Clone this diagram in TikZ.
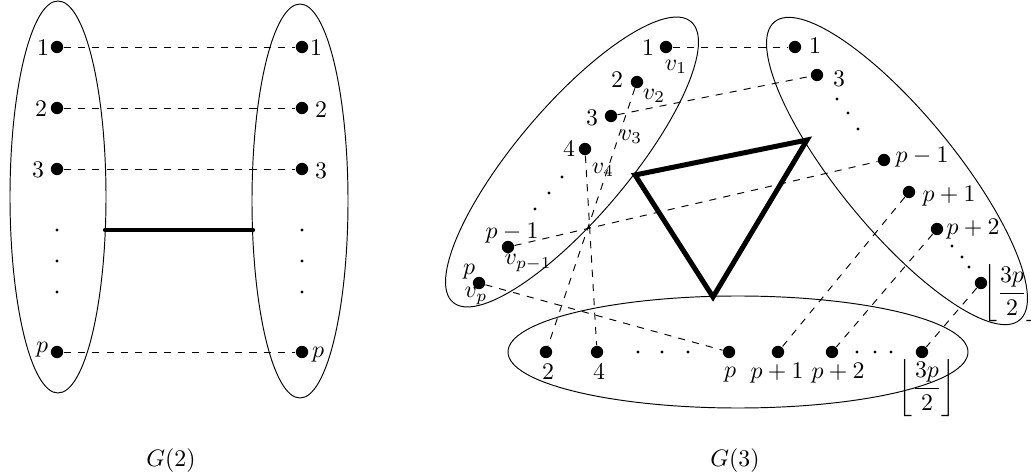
\documentclass[tikz,border=0pt]{standalone}
\begin{document}
\begin{tikzpicture}[x=0.42pt,y=-0.42pt,
  dot/.style={circle,fill,inner sep=0pt,minimum size=5.2pt},
  sdot/.style={circle,fill,inner sep=0pt,minimum size=1.4pt},
  lbl/.style={inner sep=0pt},
  link/.style={dashed},
  heavy/.style={line width=1.8pt,line join=miter},
  heavier/.style={line width=2.1pt,line join=miter},
  setline/.style={thin}]
\useasboundingbox (0,0) rectangle (1031,476);

% ---------------- G(2) ----------------
\draw[setline] (58,197) ellipse [x radius=48, y radius=196];
\draw[setline] (300,201) ellipse [x radius=48, y radius=197];

\node[dot] (a1) at (57,47) {};
\node[dot] (a2) at (57,108) {};
\node[dot] (a3) at (57,169) {};
\node[dot] (ap) at (57,352) {};
\node[sdot] (as1) at (57,230) {};
\node[sdot] (as2) at (57,261) {};
\node[sdot] (as3) at (57,292) {};

\node[dot] (b1) at (302,47) {};
\node[dot] (b2) at (302,108) {};
\node[dot] (b3) at (302,169) {};
\node[dot] (bp) at (302,352) {};
\node[sdot] (bs1) at (302,230) {};
\node[sdot] (bs2) at (302,261) {};
\node[sdot] (bs3) at (302,292) {};

\node[lbl] (la1) at (43,48) {$1$};
\node[lbl] (la2) at (41,109) {$2$};
\node[lbl] (la3) at (38,170) {$3$};
\node[lbl] (lap) at (42,350) {$p$};
\node[lbl] (lb1) at (316,48) {$1$};
\node[lbl] (lb2) at (321,110) {$2$};
\node[lbl] (lb3) at (321,171) {$3$};
\node[lbl] (lbp) at (318,355) {$p$};

\draw[link] (a1) -- (b1);
\draw[link] (a2) -- (b2);
\draw[link] (a3) -- (b3);
\draw[link] (ap) -- (bp);

\coordinate (h1) at (105,230);
\coordinate (h2) at (253,230);
\draw[heavy,line cap=round] (h1) -- (h2);

\node[lbl] (g2) at (171,461) {$G(2)$};

% ---------------- G(3) ----------------
\draw[setline,rotate around={49.7:(572,162)}] (572,162) ellipse [x radius=184, y radius=56];
\draw[setline,rotate around={-50.6:(897,171)}] (897,171) ellipse [x radius=193, y radius=58];
\draw[setline] (738,352) ellipse [x radius=230, y radius=56];

\coordinate (t1) at (635,175);
\coordinate (t2) at (807,140);
\coordinate (t3) at (713,297);
\draw[heavier] (t1) -- (t2) -- (t3) -- cycle;

% upper-left set
\node[dot] (v1) at (666,47) {};
\node[dot] (v2) at (637,82) {};
\node[dot] (v3) at (611,116) {};
\node[dot] (v4) at (585,149) {};
\node[sdot] (vs1) at (562,177) {};
\node[sdot] (vs2) at (549,193) {};
\node[sdot] (vs3) at (535,209) {};
\node[dot] (vq) at (508,247) {};
\node[dot] (vp) at (479,283) {};

\node[lbl] (lv1n) at (648,48) {$1$};
\node[lbl] (lv1) at (676,67) {$v_1$};
\node[lbl] (lv2n) at (617,80) {$2$};
\node[lbl] (lv2) at (654,96) {$v_2$};
\node[lbl] (lv3n) at (592,118) {$3$};
\node[lbl] (lv3) at (631,137) {$v_3$};
\node[lbl] (lv4n) at (569,149) {$4$};
\node[lbl] (lv4) at (603,170) {$v_4$};
\node[lbl] (lvqn) at (512,233) {$p-1$};
\node[lbl] (lvq) at (528,263) {$v_{p-1}$};
\node[lbl] (lvpn) at (469,272) {$p$};
\node[lbl] (lvp) at (476,296) {$v_p$};

% upper-right set
\node[dot] (u1) at (795,47) {};
\node[dot] (u3) at (817,75) {};
\node[sdot] (us1) at (837,99) {};
\node[sdot] (us2) at (848,113) {};
\node[sdot] (us3) at (858,129) {};
\node[dot] (uq) at (884,160) {};
\node[dot] (ur) at (909,192) {};
\node[dot] (us) at (937,229) {};
\node[sdot] (ut1) at (952,246) {};
\node[sdot] (ut2) at (962,257) {};
\node[sdot] (ut3) at (969,267) {};
\node[dot] (uf) at (981,283) {};

\node[lbl] (lu1) at (815,46) {$1$};
\node[lbl] (lu3) at (839,79) {$3$};
\node[lbl] (luq) at (922,157) {$p-1$};
\node[lbl] (lur) at (949,196) {$p+1$};
\node[lbl] (lus) at (973,229) {$p+2$};
\node[lbl] (luf) at (1012,293) {$\left\lfloor{\displaystyle\frac{3p}{2}}\right\rfloor$};

% bottom set
\node[dot] (w2) at (546,352) {};
\node[dot] (w4) at (597,352) {};
\node[sdot] (ws1) at (638,352) {};
\node[sdot] (ws2) at (662,352) {};
\node[sdot] (ws3) at (688,352) {};
\node[dot] (wp) at (729,352) {};
\node[dot] (wr) at (778,352) {};
\node[dot] (ws) at (832,352) {};
\node[sdot] (wt1) at (857,352) {};
\node[sdot] (wt2) at (875,352) {};
\node[sdot] (wt3) at (891,352) {};
\node[dot] (wf) at (922,352) {};

\node[lbl] (lw2) at (548,372) {$2$};
\node[lbl] (lw4) at (599,372) {$4$};
\node[lbl] (lwp) at (730,375) {$p$};
\node[lbl] (lwr) at (777,373) {$p+1$};
\node[lbl] (lws) at (838,373) {$p+2$};
\node[lbl] (lwf) at (927,388) {$\left\lfloor{\displaystyle\frac{3p}{2}}\right\rfloor$};

% links
\draw[link] (v1) -- (u1);
\draw[link] (v2) -- (w2);
\draw[link] (v3) -- (u3);
\draw[link] (v4) -- (w4);
\draw[link] (vq) -- (uq);
\draw[link] (vp) -- (wp);
\draw[link] (ur) -- (wr);
\draw[link] (us) -- (ws);
\draw[link] (uf) -- (wf);

\node[lbl] (g3) at (735,461) {$G(3)$};
\end{tikzpicture}
\end{document}
